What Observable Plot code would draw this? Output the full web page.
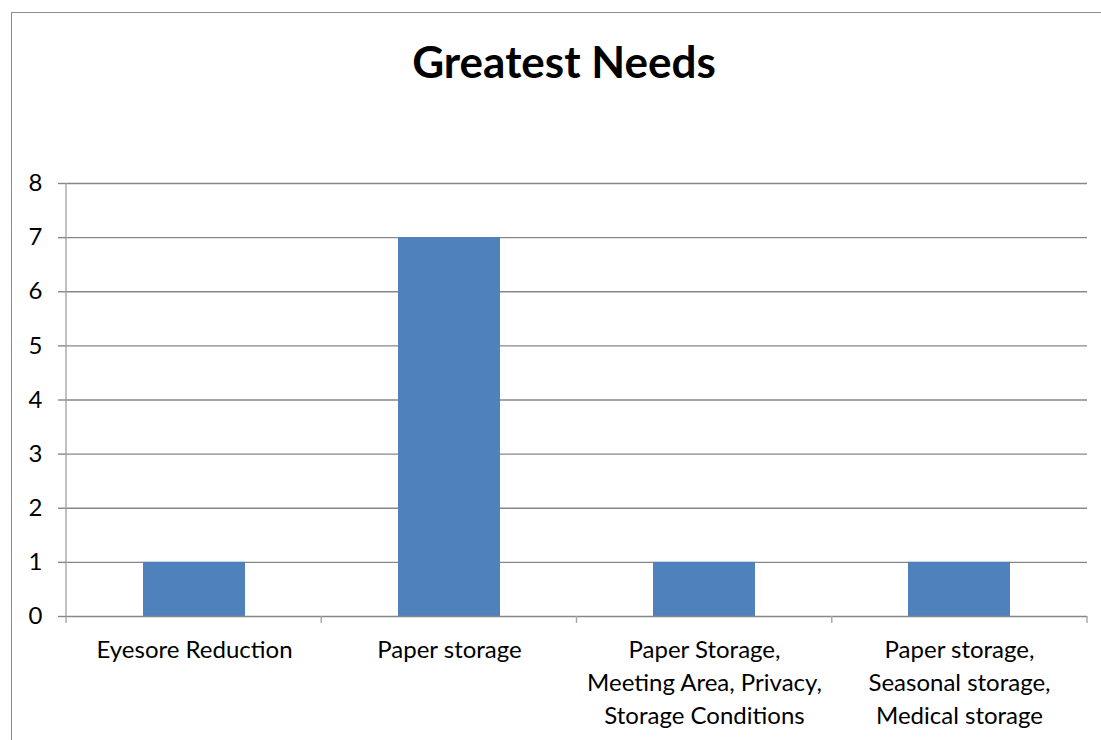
<!DOCTYPE html>
<html>
<head>
<meta charset="utf-8">
<script src="https://cdn.jsdelivr.net/npm/d3@7"></script>
<script src="https://cdn.jsdelivr.net/npm/@observablehq/plot@0.6"></script>
<style>
  html, body { margin: 0; padding: 0; background: #fff; }
  #chart { position: relative; width: 1101px; height: 740px; overflow: hidden; font-family: Lato, "Open Sans", sans-serif; }
  #frame { position: absolute; left: 11px; top: 12px; width: 1200px; height: 800px; border-left: 1.5px solid #8c8c8c; border-top: 1.5px solid #8c8c8c; box-sizing: border-box; }
  #title { position: absolute; left: 11px; width: 1106px; top: 35px; text-align: center; font-weight: bold; font-size: 44px; line-height: 52px; color: #000; margin: 0; }
  #plot { position: absolute; left: 0; top: 0; }
</style>
</head>
<body>
<div id="chart">
  <div id="frame"></div>
  <div id="title">Greatest Needs</div>
  <div id="plot"></div>
</div>
<script>
// Categories (line breaks follow the wrapped axis labels) and counts
const categories = [
  "Eyesore Reduction",
  "Paper storage",
  "Paper Storage,\nMeeting Area, Privacy,\nStorage Conditions",
  "Paper storage,\nSeasonal storage,\nMedical storage"
];
const counts = [1, 7, 1, 1];
const yTicks = [0, 1, 2, 3, 4, 5, 6, 7, 8];

const data = categories.map((c, i) => ({category: c, count: counts[i]}));

const gridColor = "#878787";
const axisColor = "#a6a6a6";

// Vertical axis line and the category boundary ticks under the baseline
function categoryFrame(index, scales, values, dims) {
  const g = d3.create("svg:g");
  const left = dims.marginLeft;
  const right = dims.width - dims.marginRight;
  const top = dims.marginTop;
  const base = dims.height - dims.marginBottom;
  const step = (right - left) / categories.length;
  g.append("line").attr("x1", left).attr("x2", left).attr("y1", top).attr("y2", base + 7)
    .attr("stroke", axisColor).attr("stroke-width", 1.4);
  for (let i = 1; i <= categories.length; i++) {
    const x = left + i * step;
    g.append("line").attr("x1", x).attr("x2", x).attr("y1", base).attr("y2", base + 7)
      .attr("stroke", axisColor).attr("stroke-width", 1.4);
  }
  return g.node();
}

const chart = Plot.plot({
  width: 1101,
  height: 740,
  marginLeft: 66,
  marginRight: 14,
  marginTop: 183,
  marginBottom: 124,
  style: {fontFamily: "Lato, 'Open Sans', sans-serif", fontSize: "24px", color: "#000", background: "transparent"},
  x: {domain: categories, paddingInner: 0.6, paddingOuter: 0.3, align: 0.5},
  y: {domain: [0, 8]},
  marks: [
    Plot.ruleY(yTicks.slice(1), {stroke: gridColor, strokeWidth: 1.4}),
    Plot.barY(data, {x: "category", y: "count", fill: "#4f81bd"}),
    Plot.ruleY([0], {stroke: gridColor, strokeWidth: 1.4}),
    categoryFrame,
    Plot.axisY({ticks: yTicks, tickSize: 8, tickPadding: 16, stroke: gridColor, strokeWidth: 1.4, label: null, fontSize: 24}),
    Plot.axisX({tickSize: 0, tickPadding: 18, label: null, lineHeight: 1.375, fontSize: 24})
  ]
});

document.getElementById("plot").appendChild(chart);
</script>
</body>
</html>
